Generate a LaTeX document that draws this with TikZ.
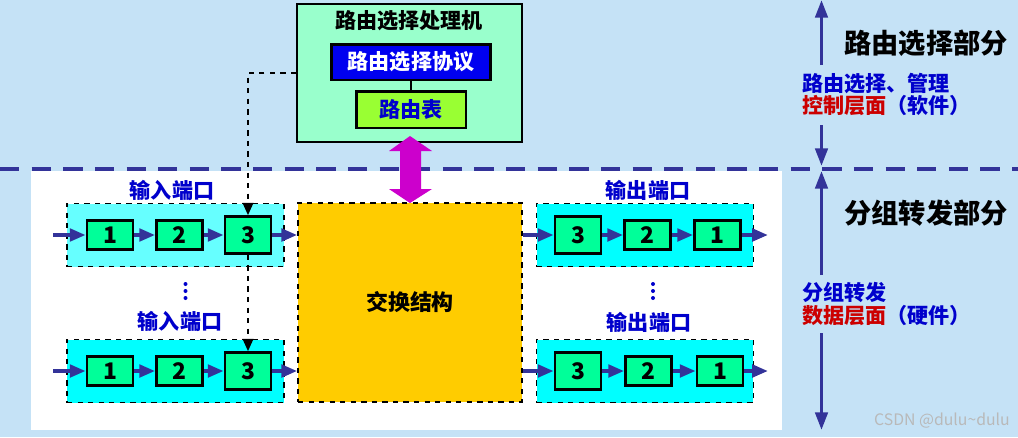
\documentclass[tikz,border=0pt]{standalone}
\usepackage{fontspec}
\setmainfont{Noto Sans CJK SC}
\usetikzlibrary{arrows.meta}
\definecolor{bgblue}{RGB}{197,226,246}
\definecolor{dashblue}{RGB}{51,51,153}
\definecolor{procgreen}{RGB}{153,255,204}
\definecolor{protoblue}{RGB}{0,0,240}
\definecolor{tablegreen}{RGB}{153,255,51}
\definecolor{arrowmag}{RGB}{204,0,204}
\definecolor{fabyellow}{RGB}{255,204,0}
\definecolor{portcyanlight}{RGB}{102,255,255}
\definecolor{portcyan}{RGB}{0,255,255}
\definecolor{cellgreen}{RGB}{0,255,153}
\definecolor{labelblue}{RGB}{0,0,204}
\definecolor{labelred}{RGB}{204,0,0}

\begin{document}
\begin{tikzpicture}[x=0.02cm,y=-0.02cm,
  queue/.style={draw,line width=1.5pt,fill=cellgreen,minimum width=0.92cm,minimum height=0.58cm,inner sep=0pt,font=\fontsize{13}{13}\selectfont\bfseries},
  queuebig/.style={queue,minimum height=0.74cm},
  portbox/.style={draw,dashed,line width=0.9pt,minimum width=4.34cm,minimum height=1.26cm,inner sep=0pt},
  portlabel/.style={text=labelblue,font=\fontsize{12}{12}\selectfont\bfseries},
  flow/.style={draw=dashblue,line width=2.2pt,-{Triangle[length=9pt,width=7pt]}},
  side/.style={draw=dashblue,line width=2pt,-{Triangle[length=10pt,width=7pt]}},
  sidetext/.style={anchor=west,align=left,inner sep=1pt,font=\fontsize{12}{13}\selectfont\bfseries},
  parttext/.style={font=\fontsize{15.5}{16}\selectfont\bfseries}]
  \useasboundingbox (0,0) rectangle (1018,437);
  % background and layer line
  \fill[bgblue] (0,0) rectangle (1018,437);
  \fill[white] (31,171) rectangle (782,430);
  \draw[dashblue,line width=2.3pt,dash pattern=on 11pt off 7pt] (0,169) -- (1018,169);

  % routing processor
  \node[draw,line width=1.1pt,fill=procgreen,minimum width=4.5cm,minimum height=2.76cm,inner sep=0pt] (proc) at (409.5,73) {};
  \node[font=\fontsize{12}{12}\selectfont\bfseries] (proctitle) at (409,20.5) {路由选择处理机};
  \node[draw,line width=1.7pt,fill=protoblue,text=white,minimum width=3.2cm,minimum height=0.72cm,inner sep=0pt,font=\fontsize{12}{12}\selectfont\bfseries] (proto) at (411,62) {路由选择协议};
  \node[draw,line width=1.7pt,fill=tablegreen,text=labelblue,minimum width=2.2cm,minimum height=0.74cm,inner sep=0pt,font=\fontsize{12}{12}\selectfont\bfseries] (table) at (411,109.5) {路由表};
  \draw[line width=1.7pt] (proto) -- (table);
  \fill[arrowmag] (410,136) -- (432,151) -- (421,151) -- (421,189) -- (432,189) -- (410,203)
    -- (389,189) -- (400,189) -- (400,151) -- (389,151) -- cycle;

  % switch fabric
  \node[draw,dashed,line width=0.9pt,fill=fabyellow,minimum width=4.48cm,minimum height=3.98cm,inner sep=0pt,font=\fontsize{12.5}{12.5}\selectfont\bfseries] (fab) at (410,302.5) {交换结构};

  % input ports
  \node[portbox,fill=portcyanlight] (inporta) at (175.5,235) {};
  \node[portlabel] (inlabela) at (172,190) {输入端口};
  \node[queue] (in1a) at (110,235) {1};
  \node[queue] (in2a) at (179.5,235) {2};
  \node[queuebig] (in3a) at (248,235) {3};
  \coordinate (ina) at (53,235);
  \draw[flow] (ina) -- (in1a);
  \draw[flow] (in1a) -- (in2a);
  \draw[flow] (in2a) -- (in3a);
  \draw[flow] (in3a) -- (in3a -| fab.west);

  \fill[labelblue] (185.5,284) circle (2) (185.5,291) circle (2) (185.5,298) circle (2);
  \node[portbox,fill=portcyan] (inportb) at (175.5,371) {};
  \node[portlabel] (inlabelb) at (180,321) {输入端口};
  \node[queue] (in1b) at (110,371) {1};
  \node[queue] (in2b) at (179.5,371) {2};
  \node[queuebig] (in3b) at (248,371) {3};
  \coordinate (inb) at (53,371);
  \draw[flow] (inb) -- (in1b);
  \draw[flow] (in1b) -- (in2b);
  \draw[flow] (in2b) -- (in3b);
  \draw[flow] (in3b) -- (in3b -| fab.west);

  % forwarding table copies
  \draw[dashed,line width=1pt,-{Triangle[length=7pt,width=6pt]}] (proc.west) -| (in3a.north);
  \draw[dashed,line width=1pt,-{Triangle[length=7pt,width=6pt]}] (in3a.south) -- (in3b.north);

  % output ports
  \node[portbox,fill=portcyan] (outporta) at (645,235) {};
  \node[portlabel] (outlabela) at (648,190) {输出端口};
  \node[queuebig] (out3a) at (578,235) {3};
  \node[queue] (out2a) at (647.5,235) {2};
  \node[queue] (out1a) at (717.5,235) {1};
  \coordinate (outa) at (768,235);
  \draw[flow] (out3a -| fab.east) -- (out3a);
  \draw[flow] (out3a) -- (out2a);
  \draw[flow] (out2a) -- (out1a);
  \draw[flow] (out1a) -- (outa);

  \fill[labelblue] (653,284) circle (2) (653,291) circle (2) (653,298) circle (2);
  \node[portbox,fill=portcyan] (outportb) at (645,371) {};
  \node[portlabel] (outlabelb) at (649,322) {输出端口};
  \node[queuebig] (out3b) at (578,371) {3};
  \node[queue] (out2b) at (648.5,371) {2};
  \node[queue] (out1b) at (720,371) {1};
  \coordinate (outb) at (768,371);
  \draw[flow] (out3b -| fab.east) -- (out3b);
  \draw[flow] (out3b) -- (out2b);
  \draw[flow] (out2b) -- (out1b);
  \draw[flow] (out1b) -- (outb);

  % right side: planes
  \node[parttext] (routepart) at (926,43) {路由选择部分};
  \node[parttext] (fwdpart) at (926,213) {分组转发部分};
  \node[sidetext] (ctrltext) at (800,94.5) {\textcolor{labelblue}{路由选择、管理}\\\textcolor{labelred}{控制层面}\textcolor{labelblue}{（软件）}};
  \node[sidetext] (datatext) at (800,304) {\textcolor{labelblue}{分组转发}\\\textcolor{labelred}{数据层面}\textcolor{labelblue}{（硬件）}};
  \coordinate (topend) at (821.5,0);
  \coordinate (midup) at (821.5,166);
  \coordinate (middown) at (821.5,171);
  \coordinate (botend) at (821.5,430);
  \draw[side] (topend |- 0,65) -- (topend);
  \draw[side] (topend |- 0,125) -- (midup);
  \draw[side] (topend |- 0,275) -- (middown);
  \draw[side] (topend |- 0,333) -- (botend);

  \node[text=gray!55,font=\fontsize{9}{9}\selectfont] (mark) at (942,421) {CSDN @dulu\textasciitilde dulu};
\end{tikzpicture}
\end{document}
